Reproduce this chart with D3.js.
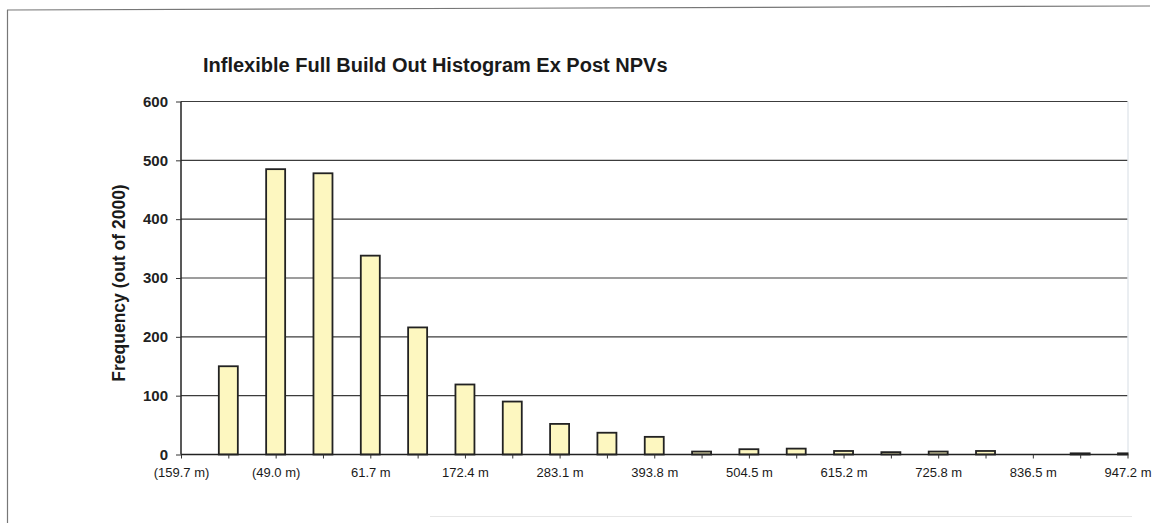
<!DOCTYPE html>
<html>
<head>
<meta charset="utf-8">
<script src="https://cdn.jsdelivr.net/npm/d3@7"></script>
<style>
  html, body { margin: 0; padding: 0; background: #fff; }
  svg { display: block; font-family: Arial, "Liberation Sans", sans-serif; }
</style>
</head>
<body>
<svg id="chart" width="1154" height="523"></svg>
<script>
// Histogram of ex post NPVs (2000 runs), 21 bins
const chartTitle = "Inflexible Full Build Out Histogram Ex Post NPVs";
const yTitle = "Frequency (out of 2000)";
const bins = d3.range(21);
const counts = [0, 150, 485, 478, 338, 216, 119, 90, 52, 37, 30, 5, 9, 10, 6, 4, 5, 6, 0, 2, 2];
// Labels shown on every second bin
const binLabels = ["(159.7 m)", "(49.0 m)", "61.7 m", "172.4 m", "283.1 m", "393.8 m",
                   "504.5 m", "615.2 m", "725.8 m", "836.5 m", "947.2 m"];
const yTicks = [0, 100, 200, 300, 400, 500, 600];

const svg = d3.select("#chart");
const plot = { left: 181, right: 1127.5, top: 101.5, bottom: 454.5 };

svg.append("rect").attr("width", 1154).attr("height", 523).attr("fill", "#fff");

// outer frame of the embedded chart
svg.append("line").attr("x1", 7).attr("y1", 10).attr("x2", 1150).attr("y2", 6)
  .attr("stroke", "#777").attr("stroke-width", 1.2);
svg.append("line").attr("x1", 7.5).attr("y1", 10).attr("x2", 7.5).attr("y2", 523)
  .attr("stroke", "#777").attr("stroke-width", 1.2);
svg.append("line").attr("x1", 430).attr("y1", 516.5).attr("x2", 1132).attr("y2", 516.5)
  .attr("stroke", "#e6e6e6").attr("stroke-width", 1);

const x = d3.scalePoint().domain(bins).range([plot.left, plot.right]);
const y = d3.scaleLinear().domain([0, 600]).range([plot.bottom, plot.top]);
const barW = 19;

// gridlines
svg.append("g").selectAll("line").data(yTicks.filter(d => d > 0)).join("line")
  .attr("x1", plot.left).attr("x2", plot.right)
  .attr("y1", d => y(d)).attr("y2", d => y(d))
  .attr("stroke", "#3c3c3c").attr("stroke-width", 1.2);

// faint right edge of the plot area
svg.append("line").attr("x1", plot.right + 0.5).attr("x2", plot.right + 0.5)
  .attr("y1", plot.top).attr("y2", plot.bottom)
  .attr("stroke", "#d6dde4").attr("stroke-width", 1);

// bars, clipped to the plot area
svg.append("clipPath").attr("id", "plotClip").append("rect")
  .attr("x", plot.left).attr("y", 0).attr("width", plot.right - plot.left + 1).attr("height", plot.bottom + 2);

svg.append("g").attr("clip-path", "url(#plotClip)")
  .selectAll("rect").data(bins.filter(i => counts[i] > 0)).join("rect")
  .attr("x", i => x(i) - barW / 2)
  .attr("y", i => y(counts[i]))
  .attr("width", barW)
  .attr("height", i => y(0) - y(counts[i]))
  .attr("fill", "#fdf7c0")
  .attr("stroke", "#222")
  .attr("stroke-width", 1.8);

// x axis
const xAxis = d3.axisBottom(x)
  .tickSize(4).tickPadding(9)
  .tickFormat((d, i) => i % 2 === 0 ? binLabels[i / 2] : "");
const gx = svg.append("g").attr("transform", `translate(0,${plot.bottom})`).call(xAxis);
gx.select(".domain").attr("d", `M${plot.left},0H${plot.right}`).attr("stroke", "#222").attr("stroke-width", 1.5);
gx.selectAll(".tick line").attr("stroke", "#333");
gx.selectAll(".tick text").attr("font-size", 13).attr("fill", "#1a1a1a")
  .attr("font-family", "Arial, 'Liberation Sans', sans-serif");

// y axis
const yAxis = d3.axisLeft(y).tickValues(yTicks).tickSize(5).tickPadding(8);
const gy = svg.append("g").attr("transform", `translate(${plot.left},0)`).call(yAxis);
gy.select(".domain").attr("d", `M0,${plot.top}V${plot.bottom}`).attr("stroke", "#222").attr("stroke-width", 1.5);
gy.selectAll(".tick line").attr("stroke", "#333");
gy.selectAll(".tick text").attr("font-size", 15).attr("font-weight", "bold").attr("fill", "#222")
  .attr("font-family", "Arial, 'Liberation Sans', sans-serif");

// titles
svg.append("text").attr("x", 203).attr("y", 72)
  .attr("font-size", 20).attr("font-weight", "bold").attr("fill", "#1a1a1a")
  .text(chartTitle);

svg.append("text")
  .attr("transform", "translate(125,283) rotate(-90)")
  .attr("text-anchor", "middle")
  .attr("font-size", 17.5).attr("font-weight", "bold").attr("fill", "#1a1a1a")
  .text(yTitle);
</script>
</body>
</html>
